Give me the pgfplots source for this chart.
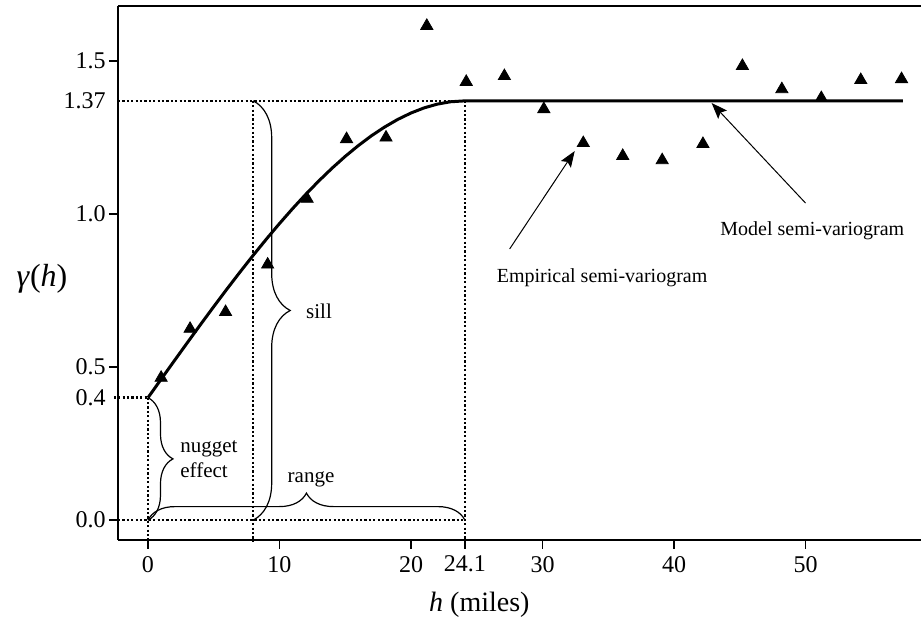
\documentclass[border=0pt]{standalone}
\usepackage{fontspec}
\setmainfont{Liberation Serif}
\usepackage{pgfplots}
\pgfplotsset{compat=1.18}
\usetikzlibrary{decorations.pathreplacing,arrows.meta}

\begin{document}
\begin{tikzpicture}
\begin{axis}[name=ax, scale only axis, width=401.5pt, height=267pt,
  xmin=-2.28, xmax=58.78, ymin=-0.065, ymax=1.68,
  clip=false,
  axis x line*=bottom, axis y line*=left,
  x axis line style={-}, y axis line style={-},
  axis line style={line width=0.8pt, black},
  tick align=outside, major tick length=4.5pt,
  tick style={line width=0.8pt, black},
  /pgf/number format/assume math mode=true,
  ticklabel style={font=\fontsize{12}{14}\selectfont},
  yticklabel style={inner sep=1.5pt},
  xtick={0,10,20,24.1,30,40,50},
  xticklabels={0,10,20,24.1,30,40,50},
  ytick={0,0.5,1,1.5},
  yticklabels={0.0,0.5,1.0,1.5},
  extra y ticks={0.4,1.37},
  extra y tick labels={0.4,1.37},
  extra y tick style={major tick style={draw=none}},
  minor tick num=0,
  guide/.style={line width=1.2pt, dash pattern=on 1.1pt off 1.1pt, black},
]
% top spine
\draw[line width=0.8pt] (rel axis cs:0,1) -- (rel axis cs:1,1);

% dotted guide lines
\addplot[guide] coordinates {(-2.28,1.37) (24.1,1.37)};
\addplot[guide] coordinates {(-2.6,0.4) (0,0.4)};
\addplot[guide] coordinates {(-2.28,0) (24.1,0)};
\addplot[guide] coordinates {(0,0.4) (0,-0.065)};
\addplot[guide] coordinates {(8.0,1.37) (8.0,-0.07)};
\addplot[guide] coordinates {(24.1,1.37) (24.1,-0.065)};

% model semi-variogram (spherical: nugget 0.4, sill 1.37, range 24.1)
\addplot[black, line width=1.5pt] coordinates {
 (0,0.4) (1,0.4604) (2,0.5205) (3,0.5802) (4,0.6393) (5,0.6976) (6,0.7548)
 (7,0.8107) (8,0.8652) (9,0.9181) (10,0.9691) (11,1.0180) (12,1.0646)
 (13,1.1087) (14,1.1501) (15,1.1886) (16,1.2240) (17,1.2562) (18,1.2846)
 (19,1.3095) (20,1.3303) (21,1.3471) (22,1.3593) (23,1.3670) (24.1,1.37)
 (57.4,1.37)};

% empirical semi-variogram
\addplot[only marks, mark=triangle*, mark size=3.5pt, black] coordinates {
 (1.0,0.465) (3.2,0.625) (5.9,0.68) (9.1,0.835) (12.1,1.05) (15.1,1.245)
 (18.1,1.25) (21.2,1.615) (24.2,1.432) (27.1,1.451) (30.1,1.343) (33.1,1.232)
 (36.1,1.19) (39.1,1.176) (42.2,1.229) (45.2,1.484) (48.2,1.408) (51.2,1.379)
 (54.2,1.438) (57.3,1.441)};

% braces
\draw[decorate, decoration={brace, amplitude=12.5pt}, line width=0.6pt]
  (axis cs:0,0.4) -- (axis cs:0,0);
\draw[decorate, decoration={brace, amplitude=18.5pt}, line width=0.6pt]
  (axis cs:8.0,1.37) -- (axis cs:8.0,0);
\draw[decorate, decoration={brace, amplitude=13.5pt}, line width=0.6pt]
  (axis cs:0,0) -- (axis cs:24.1,0);

% annotations
\node[anchor=base west, inner sep=0pt, font=\fontsize{10.5}{12}\selectfont] at (axis cs:2.43,0.222) {nugget};
\node[anchor=base west, inner sep=0pt, font=\fontsize{10.5}{12}\selectfont] at (axis cs:2.43,0.140) {effect};
\node[anchor=base west, inner sep=0pt, font=\fontsize{10.5}{12}\selectfont] at (axis cs:12.0,0.66) {sill};
\node[anchor=base, inner sep=0pt, font=\fontsize{10.5}{12}\selectfont] at (axis cs:12.4,0.124) {range};
\node[anchor=base west, inner sep=0pt, font=\fontsize{10}{12}\selectfont] at (axis cs:26.5,0.778) {Empirical semi-variogram};
\node[anchor=base west, inner sep=0pt, font=\fontsize{10}{12}\selectfont] at (axis cs:43.5,0.931) {Model semi-variogram};

\draw[-{Stealth[length=8pt, width=6pt, inset=1.5pt]}, line width=0.5pt]
  (axis cs:27.5,0.886) -- (axis cs:32.45,1.206);
\draw[-{Stealth[length=8pt, width=6pt, inset=1.5pt]}, line width=0.5pt]
  (axis cs:50.0,1.036) -- (axis cs:42.86,1.363);

% axis labels
\node[anchor=base, inner sep=0pt, font=\fontsize{16}{18}\selectfont] at (axis description cs:-0.0946,0.474) {\textit{γ}(\textit{h})};
\node[anchor=base, inner sep=0pt, font=\fontsize{14}{16}\selectfont] at (axis description cs:0.45,-0.133) {\textit{h} (miles)};
\end{axis}
\pgfresetboundingbox
\path ([shift={(-59pt,-39.5pt)}]ax.south west) rectangle ([shift={(0.5pt,3pt)}]ax.north east);
\end{tikzpicture}
\end{document}
